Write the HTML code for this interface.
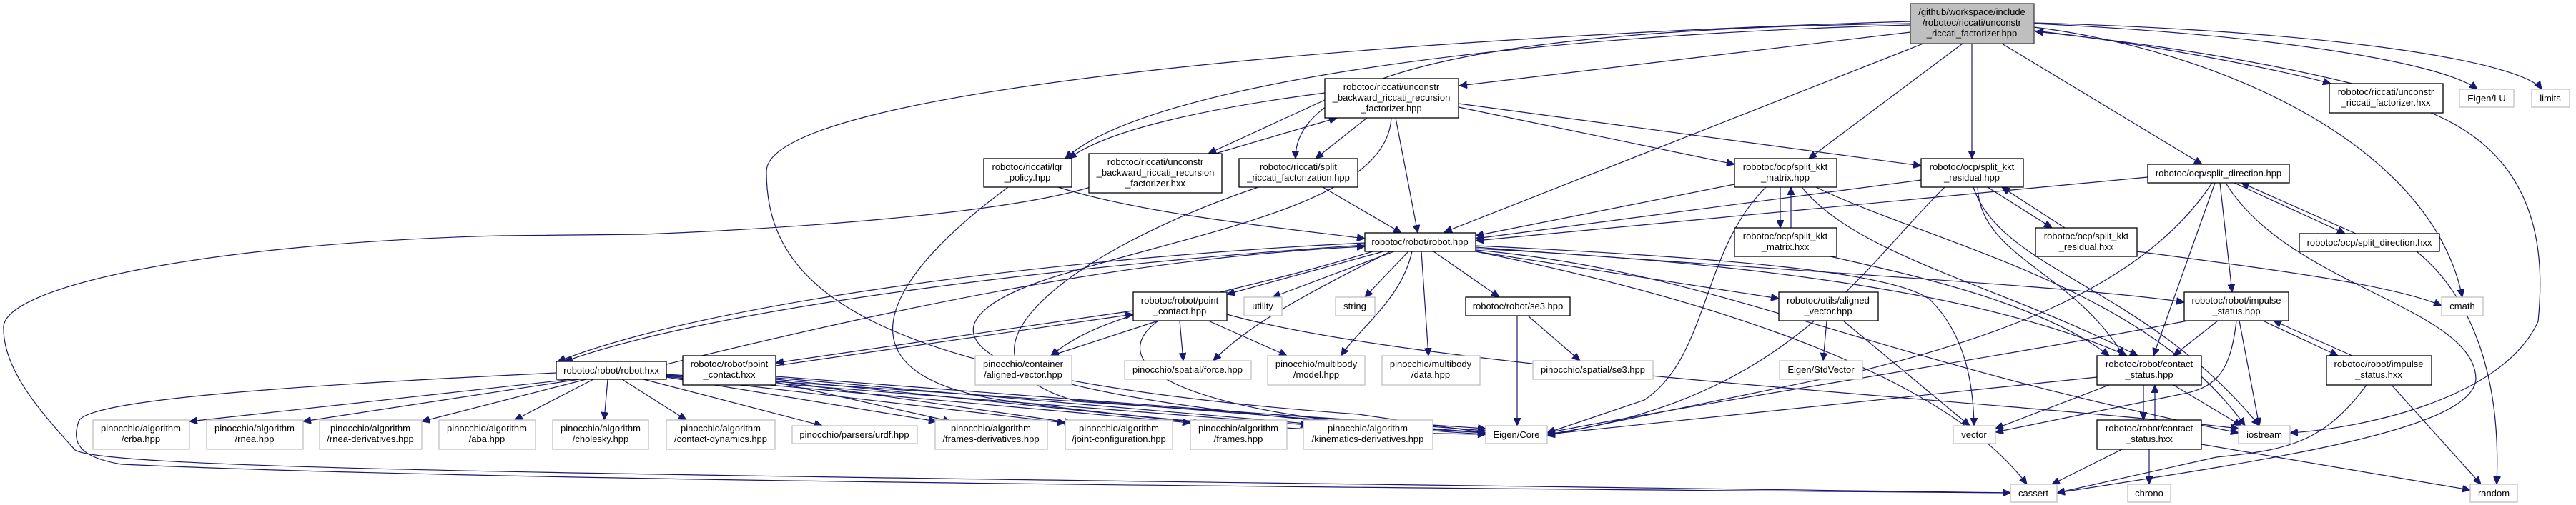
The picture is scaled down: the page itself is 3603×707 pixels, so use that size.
<!DOCTYPE html>
<html><head><meta charset="utf-8"><style>
html,body{margin:0;padding:0;background:#fff;}
svg{display:block;}
text{font-family:"Liberation Sans",Arial,sans-serif;font-size:13px;fill:#000;}
.n{fill:#fff;stroke:#000;stroke-width:1.3;}
.g{fill:#fff;stroke:#bfbfbf;stroke-width:1.3;}
.m{fill:#bfbfbf;stroke:#404040;stroke-width:1.3;}
.e path{fill:none;stroke:#191970;stroke-width:1.2;marker-end:url(#a);}
</style></head><body>
<svg width="3603" height="707" viewBox="0 0 3603 707" xmlns="http://www.w3.org/2000/svg">
<defs><marker id="a" markerUnits="userSpaceOnUse" markerWidth="12" markerHeight="10" refX="11" refY="5" orient="auto"><path d="M0 0 L11 5 L0 10 z" fill="#191970" stroke="#191970"/></marker></defs>
<g class="e">
<path d="M2672 45 L2041 120"/>
<path d="M2672 35 C2100 50 1600 120 1490 222"/>
<path d="M2672 33 C2100 40 1810 100 1812 222"/>
<path d="M2690 61 L2020 325"/>
<path d="M2745 61 L2530 222"/>
<path d="M2758 61 L2758 222"/>
<path d="M2800 61 L3080 230"/>
<path d="M2845 43 C3000 60 3200 100 3260 117"/>
<path d="M3290 117 C3100 70 2900 50 2847 44"/>
<path d="M2845 33 C3200 50 3420 90 3465 125"/>
<path d="M2845 32 C3300 45 3530 90 3555 125"/>
<path d="M2845 38 C3100 70 3400 200 3444 416"/>
<path d="M2672 30 C2000 50 1072 120 1072 240 C1072 400 1200 530 1900 580 L2078 606"/>
<path d="M1853 130 C1700 150 1550 180 1495 222"/>
<path d="M1853 140 L1690 215"/>
<path d="M1700 215 L1870 165"/>
<path d="M1912 165 L1840 222"/>
<path d="M1952 165 L1983 326"/>
<path d="M2040 150 L2426 230"/>
<path d="M2040 145 L2687 232"/>
<path d="M1946 165 C1940 280 1700 320 1500 380 C1250 450 1280 560 2078 606"/>
<path d="M1480 262 C1600 300 1800 320 1909 334"/>
<path d="M1410 262 C1250 380 1150 520 1400 560 C1700 600 1900 606 2078 608"/>
<path d="M1525 262 C1400 300 1100 320 900 328 L700 330 C300 340 0 400 5 460 C5 520 60 580 105 630 C150 660 1000 665 2812 690"/>
<path d="M1850 262 L1960 326"/>
<path d="M1760 262 C1500 350 1300 500 1500 560 L2078 606"/>
<path d="M2426 258 L2064 330"/>
<path d="M2490 262 L2490 319"/>
<path d="M2505 319 L2505 262"/>
<path d="M2470 262 C2380 350 2390 500 2300 560 L2164 606"/>
<path d="M2520 262 C2600 360 2800 400 2990 498"/>
<path d="M2540 262 C2700 340 3000 400 3140 596"/>
<path d="M2687 252 L2064 334"/>
<path d="M2780 262 L2870 319"/>
<path d="M2888 319 L2800 262"/>
<path d="M2720 262 C2600 380 2500 560 2164 608"/>
<path d="M2766 262 C2770 360 2900 380 2970 498"/>
<path d="M2760 262 C2800 380 3000 400 3160 596"/>
<path d="M3004 248 L2064 337"/>
<path d="M3125 256 L3280 327"/>
<path d="M3295 327 L3135 256"/>
<path d="M3105 256 L3122 409"/>
<path d="M3098 256 L3012 498"/>
<path d="M3094 256 C3000 400 2800 470 2600 520 L2164 610"/>
<path d="M3113 256 C3200 400 3460 430 3463 530 C3460 600 3200 640 2877 690"/>
<path d="M3400 158 C3550 220 3560 350 3550 450 C3500 560 3300 600 3203 606"/>
<path d="M3380 352 C3440 400 3500 500 3492 678"/>
<path d="M1909 340 C1500 360 1000 420 780 506"/>
<path d="M1909 343 C1500 370 1000 430 790 506"/>
<path d="M932 510 C1300 420 1600 360 1909 345"/>
<path d="M1935 352 L1716 412"/>
<path d="M1950 352 L1780 416"/>
<path d="M1970 352 L1909 416"/>
<path d="M2005 352 L2097 416"/>
<path d="M1920 352 C1700 420 1550 430 1470 498"/>
<path d="M1945 352 C1850 400 1750 450 1697 505"/>
<path d="M1975 352 C1960 420 1900 460 1876 498"/>
<path d="M1988 352 L1998 498"/>
<path d="M2064 352 L2488 418"/>
<path d="M2064 344 C2400 360 2650 380 2700 420 C2750 470 2760 540 2761 596"/>
<path d="M2064 348 C2500 370 2800 420 2975 498"/>
<path d="M2064 346 C2500 380 2900 400 3055 423"/>
<path d="M2064 350 C2400 380 2600 500 3131 606"/>
<path d="M2064 352 C2300 400 2700 500 2835 678"/>
<path d="M1585 435 L1085 508"/>
<path d="M1085 512 L1585 440"/>
<path d="M1620 449 L1470 498"/>
<path d="M1650 449 L1655 505"/>
<path d="M1690 449 L1800 498"/>
<path d="M1620 449 C1550 500 1600 580 2078 608"/>
<path d="M1716 440 C2000 520 2800 560 3131 600"/>
<path d="M2122 442 L2122 596"/>
<path d="M2137 442 L2210 505"/>
<path d="M2555 449 L2550 505"/>
<path d="M2578 449 L2755 596"/>
<path d="M3102 449 L3040 498"/>
<path d="M3165 449 L3270 498"/>
<path d="M3290 498 L3180 449"/>
<path d="M3132 449 L3160 596"/>
<path d="M3128 449 C3120 520 3100 540 3060 550 L2791 605"/>
<path d="M3060 449 C2800 500 2400 560 2164 606"/>
<path d="M2998 539 L2998 588"/>
<path d="M3014 588 L3014 539"/>
<path d="M2950 539 L2791 600"/>
<path d="M3040 539 L3135 596"/>
<path d="M2933 528 L2164 608"/>
<path d="M2968 629 L2870 678"/>
<path d="M3006 629 L3006 678"/>
<path d="M3079 622 L3455 686"/>
<path d="M3345 539 L3470 678"/>
<path d="M3310 539 C3250 620 3200 630 3100 640 L2877 690"/>
<path d="M800 531 L265 590"/>
<path d="M810 531 L424 590"/>
<path d="M820 531 L590 590"/>
<path d="M830 531 L720 588"/>
<path d="M850 531 L845 588"/>
<path d="M870 531 L960 588"/>
<path d="M900 531 L1150 596"/>
<path d="M932 528 L1310 590"/>
<path d="M932 527 L1490 592"/>
<path d="M932 526 L1665 592"/>
<path d="M932 525 L1830 595"/>
<path d="M932 524 L2078 600"/>
<path d="M778 522 C400 540 120 560 110 590 C100 620 110 640 170 650 C600 670 1500 680 2812 690"/>
<path d="M1085 535 L1330 590"/>
<path d="M1085 533 L1500 592"/>
<path d="M1085 531 L1680 592"/>
<path d="M1085 529 L1850 595"/>
<path d="M1085 527 L2078 603"/>
<path d="M2989 352 C3200 380 3350 400 3415 428"/>
<path d="M2560 359 C2650 380 2850 420 2950 498"/>
</g>
<g>
<rect class="m" x="2672" y="5" width="173" height="56"/>
<text x="2758" y="21" text-anchor="middle">/github/workspace/include</text>
<text x="2758" y="36" text-anchor="middle">/robotoc/riccati/unconstr</text>
<text x="2758" y="51" text-anchor="middle">_riccati_factorizer.hpp</text>

<rect class="n" x="1853" y="110" width="187" height="55"/>
<text x="1946" y="126" text-anchor="middle">robotoc/riccati/unconstr</text>
<text x="1946" y="141" text-anchor="middle">_backward_riccati_recursion</text>
<text x="1946" y="156" text-anchor="middle">_factorizer.hpp</text>

<rect class="n" x="1523" y="215" width="186" height="55"/>
<text x="1616" y="231" text-anchor="middle">robotoc/riccati/unconstr</text>
<text x="1616" y="246" text-anchor="middle">_backward_riccati_recursion</text>
<text x="1616" y="261" text-anchor="middle">_factorizer.hxx</text>

<rect class="n" x="1376" y="222" width="123" height="40"/>
<text x="1437" y="238" text-anchor="middle">robotoc/riccati/lqr</text>
<text x="1437" y="253" text-anchor="middle">_policy.hpp</text>

<rect class="n" x="1733" y="222" width="166" height="40"/>
<text x="1816" y="238" text-anchor="middle">robotoc/riccati/split</text>
<text x="1816" y="253" text-anchor="middle">_riccati_factorization.hpp</text>

<rect class="n" x="2426" y="222" width="143" height="40"/>
<text x="2497" y="238" text-anchor="middle">robotoc/ocp/split_kkt</text>
<text x="2497" y="253" text-anchor="middle">_matrix.hpp</text>

<rect class="n" x="2687" y="222" width="143" height="40"/>
<text x="2758" y="238" text-anchor="middle">robotoc/ocp/split_kkt</text>
<text x="2758" y="253" text-anchor="middle">_residual.hpp</text>

<rect class="n" x="3004" y="230" width="198" height="26"/>
<text x="3103" y="247" text-anchor="middle">robotoc/ocp/split_direction.hpp</text>

<rect class="n" x="3258" y="117" width="159" height="41"/>
<text x="3337" y="133" text-anchor="middle">robotoc/riccati/unconstr</text>
<text x="3337" y="148" text-anchor="middle">_riccati_factorizer.hxx</text>

<rect class="g" x="3440" y="125" width="76" height="25"/>
<text x="3478" y="142" text-anchor="middle">Eigen/LU</text>
<rect class="g" x="3541" y="125" width="53" height="25"/>
<text x="3567" y="142" text-anchor="middle">limits</text>

<rect class="n" x="1909" y="326" width="155" height="26"/>
<text x="1986" y="343" text-anchor="middle">robotoc/robot/robot.hpp</text>

<rect class="n" x="2426" y="319" width="143" height="40"/>
<text x="2497" y="335" text-anchor="middle">robotoc/ocp/split_kkt</text>
<text x="2497" y="350" text-anchor="middle">_matrix.hxx</text>

<rect class="n" x="2847" y="319" width="142" height="40"/>
<text x="2918" y="335" text-anchor="middle">robotoc/ocp/split_kkt</text>
<text x="2918" y="350" text-anchor="middle">_residual.hxx</text>

<rect class="n" x="3216" y="327" width="196" height="25"/>
<text x="3314" y="344" text-anchor="middle">robotoc/ocp/split_direction.hxx</text>

<rect class="n" x="1585" y="409" width="131" height="40"/>
<text x="1650" y="425" text-anchor="middle">robotoc/robot/point</text>
<text x="1650" y="440" text-anchor="middle">_contact.hpp</text>

<rect class="g" x="1740" y="416" width="53" height="26"/>
<text x="1766" y="433" text-anchor="middle">utility</text>
<rect class="g" x="1868" y="416" width="55" height="26"/>
<text x="1895" y="433" text-anchor="middle">string</text>

<rect class="n" x="2050" y="416" width="146" height="26"/>
<text x="2123" y="433" text-anchor="middle">robotoc/robot/se3.hpp</text>

<rect class="n" x="2488" y="409" width="139" height="40"/>
<text x="2557" y="425" text-anchor="middle">robotoc/utils/aligned</text>
<text x="2557" y="440" text-anchor="middle">_vector.hpp</text>

<rect class="n" x="3055" y="409" width="146" height="40"/>
<text x="3128" y="425" text-anchor="middle">robotoc/robot/impulse</text>
<text x="3128" y="440" text-anchor="middle">_status.hpp</text>

<rect class="g" x="3415" y="416" width="58" height="26"/>
<text x="3444" y="433" text-anchor="middle">cmath</text>

<rect class="n" x="778" y="506" width="154" height="25"/>
<text x="855" y="523" text-anchor="middle">robotoc/robot/robot.hxx</text>

<rect class="n" x="955" y="498" width="130" height="41"/>
<text x="1020" y="514" text-anchor="middle">robotoc/robot/point</text>
<text x="1020" y="529" text-anchor="middle">_contact.hxx</text>

<rect class="g" x="1364" y="498" width="135" height="41"/>
<text x="1431" y="514" text-anchor="middle">pinocchio/container</text>
<text x="1431" y="529" text-anchor="middle">/aligned-vector.hpp</text>

<rect class="g" x="1573" y="505" width="177" height="26"/>
<text x="1661" y="522" text-anchor="middle">pinocchio/spatial/force.hpp</text>

<rect class="g" x="1773" y="498" width="136" height="41"/>
<text x="1841" y="514" text-anchor="middle">pinocchio/multibody</text>
<text x="1841" y="529" text-anchor="middle">/model.hpp</text>

<rect class="g" x="1933" y="498" width="137" height="41"/>
<text x="2001" y="514" text-anchor="middle">pinocchio/multibody</text>
<text x="2001" y="529" text-anchor="middle">/data.hpp</text>

<rect class="g" x="2144" y="505" width="168" height="26"/>
<text x="2228" y="522" text-anchor="middle">pinocchio/spatial/se3.hpp</text>

<rect class="g" x="2489" y="505" width="116" height="26"/>
<text x="2547" y="522" text-anchor="middle">Eigen/StdVector</text>

<rect class="n" x="2933" y="498" width="146" height="41"/>
<text x="3006" y="514" text-anchor="middle">robotoc/robot/contact</text>
<text x="3006" y="529" text-anchor="middle">_status.hpp</text>

<rect class="n" x="3254" y="498" width="147" height="41"/>
<text x="3327" y="514" text-anchor="middle">robotoc/robot/impulse</text>
<text x="3327" y="529" text-anchor="middle">_status.hxx</text>

<rect class="g" x="130" y="588" width="135" height="41"/>
<text x="197" y="604" text-anchor="middle">pinocchio/algorithm</text>
<text x="197" y="619" text-anchor="middle">/crba.hpp</text>
<rect class="g" x="289" y="588" width="135" height="41"/>
<text x="356" y="604" text-anchor="middle">pinocchio/algorithm</text>
<text x="356" y="619" text-anchor="middle">/rnea.hpp</text>
<rect class="g" x="447" y="588" width="143" height="41"/>
<text x="518" y="604" text-anchor="middle">pinocchio/algorithm</text>
<text x="518" y="619" text-anchor="middle">/rnea-derivatives.hpp</text>
<rect class="g" x="614" y="588" width="135" height="41"/>
<text x="681" y="604" text-anchor="middle">pinocchio/algorithm</text>
<text x="681" y="619" text-anchor="middle">/aba.hpp</text>
<rect class="g" x="773" y="588" width="134" height="41"/>
<text x="840" y="604" text-anchor="middle">pinocchio/algorithm</text>
<text x="840" y="619" text-anchor="middle">/cholesky.hpp</text>
<rect class="g" x="932" y="588" width="152" height="41"/>
<text x="1008" y="604" text-anchor="middle">pinocchio/algorithm</text>
<text x="1008" y="619" text-anchor="middle">/contact-dynamics.hpp</text>
<rect class="g" x="1108" y="596" width="175" height="25"/>
<text x="1195" y="613" text-anchor="middle">pinocchio/parsers/urdf.hpp</text>
<rect class="g" x="1308" y="588" width="157" height="41"/>
<text x="1386" y="604" text-anchor="middle">pinocchio/algorithm</text>
<text x="1386" y="619" text-anchor="middle">/frames-derivatives.hpp</text>
<rect class="g" x="1490" y="588" width="150" height="41"/>
<text x="1565" y="604" text-anchor="middle">pinocchio/algorithm</text>
<text x="1565" y="619" text-anchor="middle">/joint-configuration.hpp</text>
<rect class="g" x="1665" y="588" width="135" height="41"/>
<text x="1732" y="604" text-anchor="middle">pinocchio/algorithm</text>
<text x="1732" y="619" text-anchor="middle">/frames.hpp</text>
<rect class="g" x="1823" y="588" width="181" height="41"/>
<text x="1913" y="604" text-anchor="middle">pinocchio/algorithm</text>
<text x="1913" y="619" text-anchor="middle">/kinematics-derivatives.hpp</text>
<rect class="g" x="2078" y="596" width="86" height="25"/>
<text x="2121" y="613" text-anchor="middle">Eigen/Core</text>
<rect class="g" x="2732" y="596" width="59" height="25"/>
<text x="2761" y="613" text-anchor="middle">vector</text>
<rect class="g" x="3131" y="596" width="72" height="25"/>
<text x="3167" y="613" text-anchor="middle">iostream</text>
<rect class="n" x="2933" y="588" width="146" height="41"/>
<text x="3006" y="604" text-anchor="middle">robotoc/robot/contact</text>
<text x="3006" y="619" text-anchor="middle">_status.hxx</text>

<rect class="g" x="2812" y="678" width="65" height="25"/>
<text x="2844" y="695" text-anchor="middle">cassert</text>
<rect class="g" x="2976" y="678" width="60" height="25"/>
<text x="3006" y="695" text-anchor="middle">chrono</text>
<rect class="g" x="3455" y="678" width="66" height="25"/>
<text x="3488" y="695" text-anchor="middle">random</text>
</g>
</svg>
</body></html>
